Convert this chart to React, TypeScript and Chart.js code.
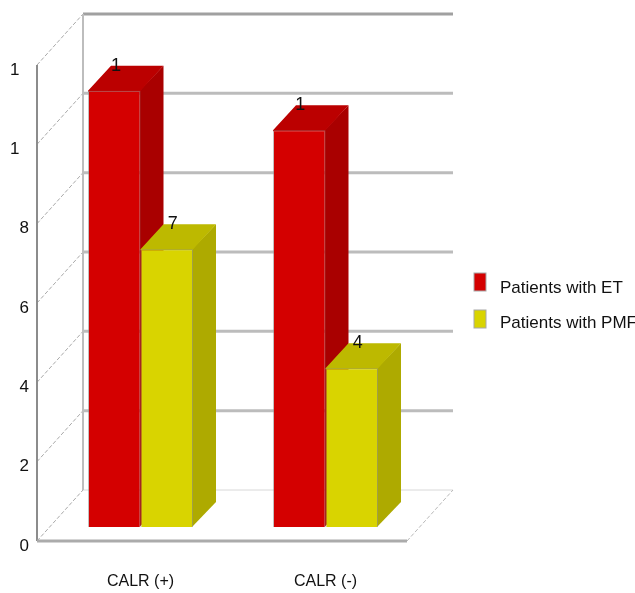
import React, { useEffect, useRef } from "react";
import { Chart, registerables } from "chart.js";

Chart.register(...registerables);

const categories = ["CALR (+)", "CALR (-)"];
const seriesNames = ["Patients with ET", "Patients with PMF"];
const etPatients = [11, 10];
const pmfPatients = [7, 4];
const yTickStep = 2;
const yMax = 12;

const frontColors = ["#d40000", "#d9d400"];
const sideColors = ["#a90000", "#aeaa00"];
const topColors = ["#bb0000", "#bdb900"];
const FONT = '"Liberation Sans", sans-serif';

// Perspective of the box: back wall relative to the front plane, and bars inside it.
const WALL = { x: 46, y: -51 };
const BAR_SHIFT = { x: 11, y: -14 };
const BAR_DEPTH = { x: 23, y: -25 };

function polygon(ctx: CanvasRenderingContext2D, pts: number[][], fill: string) {
  ctx.beginPath();
  pts.forEach(([x, y], i) => (i ? ctx.lineTo(x, y) : ctx.moveTo(x, y)));
  ctx.closePath();
  ctx.fillStyle = fill;
  ctx.fill();
}

const boxPlugin = {
  id: "box3d",
  // Walls, floor and grid behind the bars.
  beforeDatasetsDraw(chart: any) {
    const { ctx, chartArea: a, scales } = chart;
    const bx = a.left + WALL.x;
    const rx = a.right + WALL.x;
    ctx.save();
    for (const tick of scales.y.ticks) {
      const y = scales.y.getPixelForValue(tick.value);
      const by = y + WALL.y;
      ctx.setLineDash([4, 2]);
      ctx.lineWidth = 1;
      ctx.strokeStyle = "#a8a8a8";
      ctx.beginPath();
      ctx.moveTo(a.left, y);
      ctx.lineTo(bx, by);
      ctx.stroke();
      ctx.setLineDash([]);
      const isTop = tick.value === yMax;
      const isFloor = tick.value === 0;
      ctx.lineWidth = isFloor ? 1 : 3;
      ctx.strokeStyle = isTop ? "#a0a0a0" : isFloor ? "#d8d8d8" : "#bcbcbc";
      ctx.beginPath();
      ctx.moveTo(bx, by);
      ctx.lineTo(rx, by);
      ctx.stroke();
    }
    ctx.setLineDash([4, 2]);
    ctx.lineWidth = 1;
    ctx.strokeStyle = "#b8b8b8";
    ctx.beginPath();
    ctx.moveTo(a.right, a.bottom);
    ctx.lineTo(rx, a.bottom + WALL.y);
    ctx.stroke();
    ctx.setLineDash([]);

    ctx.lineWidth = 2;
    ctx.strokeStyle = "#bdbdbd";
    ctx.beginPath();
    ctx.moveTo(bx, a.top + WALL.y);
    ctx.lineTo(bx, a.bottom + WALL.y);
    ctx.stroke();

    ctx.strokeStyle = "#8c8c8c";
    ctx.beginPath();
    ctx.moveTo(a.left, a.top);
    ctx.lineTo(a.left, a.bottom);
    ctx.stroke();

    ctx.lineWidth = 3;
    ctx.strokeStyle = "#ababab";
    ctx.beginPath();
    ctx.moveTo(a.left, a.bottom);
    ctx.lineTo(a.right, a.bottom);
    ctx.stroke();
    ctx.restore();

    // Bars sit a little inside the box; their side and top faces come first.
    ctx.save();
    ctx.translate(BAR_SHIFT.x, BAR_SHIFT.y);
    chart.data.datasets.forEach((_: any, di: number) => {
      for (const bar of chart.getDatasetMeta(di).data as any[]) {
        const l = bar.x - bar.width / 2;
        const r = bar.x + bar.width / 2;
        const t = bar.y;
        const b = bar.base;
        const d = BAR_DEPTH;
        polygon(ctx, [[r - 1, t], [r + d.x, t + d.y], [r + d.x, b + d.y], [r - 1, b]], sideColors[di]);
        // The lower edge runs under the front face so no seam shows between them.
        polygon(ctx, [[l, t + 1], [l, t], [l + d.x, t + d.y], [r + d.x, t + d.y], [r, t], [r, t + 1]], topColors[di]);
      }
    });
  },
  // Value captions, where only the leading digit has room to show; then the legend.
  afterDatasetsDraw(chart: any) {
    const { ctx } = chart;
    ctx.restore();
    ctx.save();
    ctx.font = `18px ${FONT}`;
    ctx.fillStyle = "#111";
    ctx.textAlign = "left";
    ctx.textBaseline = "middle";
    chart.data.datasets.forEach((ds: any, di: number) => {
      (chart.getDatasetMeta(di).data as any[]).forEach((bar, i) => {
        const text = String(ds.data[i]);
        const full = ctx.measureText(text).width;
        const first = ctx.measureText(text[0]).width;
        const left = bar.x + BAR_SHIFT.x + 6 - full / 2;
        const y = bar.y + BAR_SHIFT.y - 25;
        ctx.save();
        ctx.beginPath();
        ctx.rect(left, y - 14, first, 28);
        ctx.clip();
        ctx.fillText(text, left, y);
        ctx.restore();
      });
    });

    const legendX = 474;
    const legendY = [273, 310];
    ctx.font = `17px ${FONT}`;
    chart.data.datasets.forEach((ds: any, di: number) => {
      ctx.fillStyle = frontColors[di];
      ctx.strokeStyle = "#a8a8a8";
      ctx.lineWidth = 1;
      ctx.fillRect(legendX, legendY[di], 12, 18);
      ctx.strokeRect(legendX, legendY[di], 12, 18);
      ctx.fillStyle = "#111";
      ctx.fillText(ds.label, 500, legendY[di] + 15 - (di ? 2 : 0));
    });
    ctx.restore();
  },
};

export default function App() {
  const ref = useRef<HTMLCanvasElement>(null);
  useEffect(() => {
    const chart = new Chart(ref.current!, {
      type: "bar",
      data: {
        labels: categories,
        datasets: [
          { label: seriesNames[0], data: etPatients, backgroundColor: frontColors[0], borderColor: "rgba(150,140,140,0.55)", borderWidth: 1, clip: false },
          { label: seriesNames[1], data: pmfPatients, backgroundColor: frontColors[1], borderColor: "rgba(150,150,130,0.55)", borderWidth: 1, clip: false },
        ],
      },
      plugins: [boxPlugin],
      options: {
        animation: false,
        responsive: false,
        layout: { padding: { left: 0, top: 65, right: 228, bottom: 0 } },
        plugins: { legend: { display: false }, tooltip: { enabled: false }, title: { display: false } },
        datasets: { bar: { barPercentage: 1, categoryPercentage: 0.5676 } },
        scales: {
          x: {
            grid: { display: false },
            border: { display: false },
            ticks: {
              font: { family: FONT, size: 16 },
              color: "#111",
              padding: 23,
              labelOffset: 11,
              maxRotation: 0,
            },
            afterFit: (s: any) => {
              s.height = 52;
            },
          },
          y: {
            min: 0,
            max: yMax,
            grid: { display: false },
            border: { display: false },
            ticks: {
              stepSize: yTickStep,
              padding: 0,
              labelOffset: 5,
              color: "#111",
              font: { family: FONT, size: 17 },
              // The axis only has room for one digit; two-digit ticks keep their leading one.
              callback: (v: any) => (v >= 10 ? String(v)[0] + "  " : String(v)),
            },
            afterFit: (s: any) => {
              s.width = 37;
            },
          },
        },
      },
    } as any);
    return () => chart.destroy();
  }, []);
  return (
    <div style={{ position: "fixed", left: 0, top: 0, width: 635, height: 593, background: "#fff" }}>
      <canvas ref={ref} width={635} height={593} style={{ display: "block" }} />
    </div>
  );
}
